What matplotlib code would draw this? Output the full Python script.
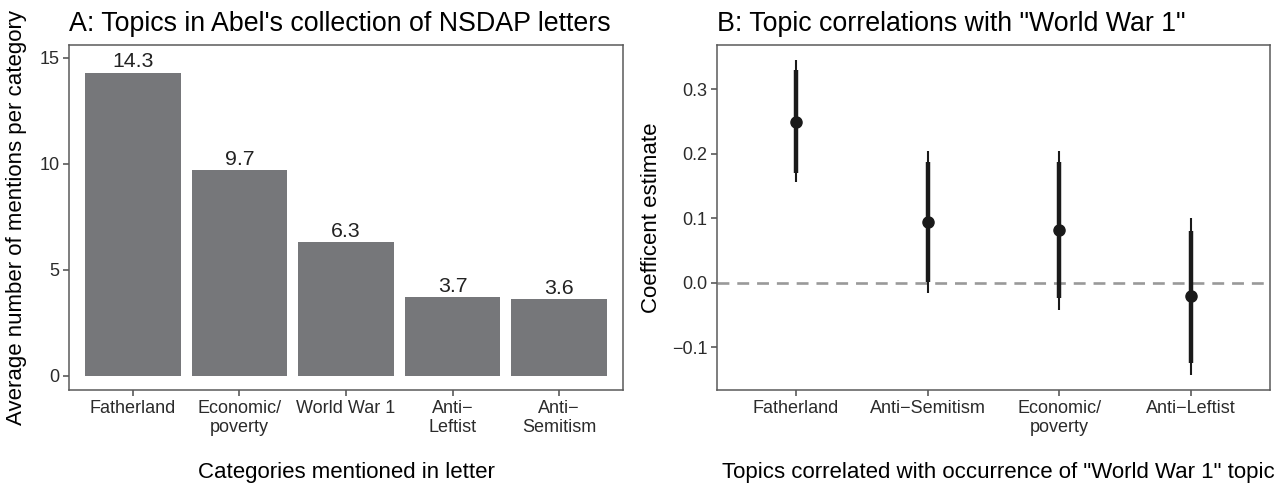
import matplotlib
matplotlib.use("Agg")
import matplotlib.pyplot as plt

plt.rcParams["font.family"] = ["Liberation Sans", "DejaVu Sans"]

# Panel A: average mentions per category
bar_categories = ["Fatherland", "Economic/\npoverty", "World War 1", "Anti\u2212\nLeftist", "Anti\u2212\nSemitism"]
bar_values = [14.3, 9.7, 6.3, 3.7, 3.6]

# Panel B: coefficient estimates with two interval widths
coef_categories = ["Fatherland", "Anti\u2212Semitism", "Economic/\npoverty", "Anti\u2212Leftist"]
coef_estimate = [0.250, 0.095, 0.082, -0.021]
coef_outer_low = [0.156, -0.015, -0.042, -0.143]
coef_outer_high = [0.345, 0.205, 0.205, 0.100]
coef_inner_low = [0.171, 0.001, -0.023, -0.124]
coef_inner_high = [0.331, 0.188, 0.188, 0.081]

W, H = 1279, 488
fig = plt.figure(figsize=(W / 100, H / 100), dpi=100)

ax_a = fig.add_axes([69 / W, (H - 390) / H, 554 / W, 345 / H])
ax_b = fig.add_axes([717 / W, (H - 390) / H, 553 / W, 345 / H])

border = "#5a5a5a"
tick_color = "#2b2b2b"

for ax in (ax_a, ax_b):
    for spine in ax.spines.values():
        spine.set_color(border)
        spine.set_linewidth(1.1)
    ax.tick_params(axis="both", direction="out", length=4, width=1.2,
                   color=border, labelsize=13, labelcolor=tick_color, pad=3)

# --- Panel A ---
xa = list(range(1, len(bar_values) + 1))
ax_a.bar(xa, bar_values, width=0.9, color="#76777a", zorder=2)
for x, v in zip(xa, bar_values):
    ax_a.text(x, v + 0.05, f"{v:.1f}", ha="center", va="bottom", fontsize=15.3, color="#222222")
ax_a.set_xlim(0.4, len(bar_values) + 0.6)
ax_a.set_ylim(-0.68, 15.6)
ax_a.set_xticks(xa, labels=bar_categories)
ax_a.set_yticks([0, 5, 10, 15])
ax_a.set_title("A: Topics in Abel's collection of NSDAP letters", loc="left", fontsize=19.3, pad=10)
ax_a.set_xlabel("Categories mentioned in letter", fontsize=16)
ax_a.set_ylabel("Average number of mentions per category", fontsize=16)
ax_a.xaxis.set_label_coords(0.5, -0.21)
ax_a.yaxis.set_label_coords(-0.075, 0.5)

# --- Panel B ---
xb = list(range(1, len(coef_estimate) + 1))
ax_b.axhline(0, color="#999999", linestyle=(0, (4.5, 3)), linewidth=1.9, zorder=1)
ax_b.vlines(xb, coef_outer_low, coef_outer_high, color="#1a1a1a", linewidth=1.5, zorder=2)
ax_b.vlines(xb, coef_inner_low, coef_inner_high, color="#1a1a1a", linewidth=3.2, zorder=3)
ax_b.plot(xb, coef_estimate, "o", color="#1a1a1a", markersize=8, zorder=4)
ax_b.set_xlim(0.4, len(coef_estimate) + 0.6)
ax_b.set_ylim(-0.166, 0.369)
ax_b.set_xticks(xb, labels=coef_categories)
ax_b.set_yticks([-0.1, 0.0, 0.1, 0.2, 0.3])
ax_b.set_yticklabels(["\u22120.1", "0.0", "0.1", "0.2", "0.3"])
ax_b.set_title('B: Topic correlations with "World War 1"', loc="left", fontsize=19.3, pad=10)
ax_b.set_xlabel('Topics correlated with occurrence of "World War 1" topic', fontsize=16)
ax_b.set_ylabel("Coefficent estimate", fontsize=16)
ax_b.xaxis.set_label_coords(0.508, -0.21)
ax_b.yaxis.set_label_coords(-0.1, 0.5)

fig.savefig("out.png", dpi=100)
